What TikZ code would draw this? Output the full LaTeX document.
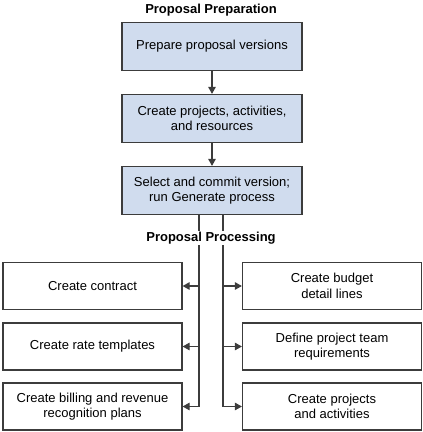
\documentclass[tikz,border=0pt]{standalone}
\usepackage{fontspec}
\setmainfont{Liberation Sans}
\usetikzlibrary{arrows.meta,positioning}

\definecolor{boxblue}{HTML}{D0DCEE}
\definecolor{linegray}{HTML}{3C3C3C}

\tikzset{
  prepbox/.style = {draw = linegray, line width = 1.2pt, fill = boxblue,
    minimum width = 180pt, minimum height = 48pt, align = center,
    font = \fontsize{13}{15.5}\selectfont},
  procbox/.style = {draw = linegray, line width = 1.2pt, fill = white,
    minimum width = 179pt, minimum height = 47pt, align = center,
    font = \fontsize{13}{15.5}\selectfont},
  heading/.style = {font = \fontsize{13}{15.5}\selectfont\bfseries, fill = white,
    inner sep = 1pt},
  flow/.style = {draw = linegray, line width = 1.2pt,
    -{Triangle[length = 7pt, width = 7.5pt]}},
  rail/.style = {draw = linegray, line width = 1.2pt}
}

\begin{document}
\begin{tikzpicture}[x = 1pt, y = -1pt]
        \useasboundingbox (0,0) rectangle (423,432);

        % proposal preparation
        \node[heading] (prep) at (211,10) {Proposal Preparation};
        \node[prepbox] (versions) at (212,46.5) {Prepare proposal versions};
        \node[prepbox] (projects) at (212,118.5) {Create projects, activities,\\and resources};
        \node[prepbox] (commit) at (212,190.5) {Select and commit version;\\run Generate process};

        \draw[flow] (versions) -- (projects);
        \draw[flow] (projects) -- (commit);

        % proposal processing
        \foreach \name/\y/\txt in {contract/286/Create contract,
            rates/346.5/Create rate templates,
            billing/406.5/{Create billing and revenue\\recognition plans}}
          \node[procbox] (\name) at (92.5,\y) {\txt};
        \foreach \name/\y/\txt in {budget/286/{Create budget\\detail lines},
            team/346.5/{Define project team\\requirements},
            activities/406.5/{Create projects\\and activities}}
          \node[procbox] (\name) at (332,\y) {\txt};

        % draws the rails
        \coordinate (ltop) at (199,214);
        \coordinate (rtop) at (223,214);
        \coordinate (lend) at (199,407);
        \coordinate (rend) at (223,407);
        \draw[rail] (ltop) -- (lend);
        \draw[rail] (rtop) -- (rend);

        \node[heading] (proc) at (211,238) {Proposal Processing};

        % draws the branches
        \foreach \name in {contract, rates, billing}
          \draw[flow] (ltop |- \name.east) -- (\name.east);
        \foreach \name in {budget, team, activities}
          \draw[flow] (rtop |- \name.west) -- (\name.west);
      \end{tikzpicture}
\end{document}
